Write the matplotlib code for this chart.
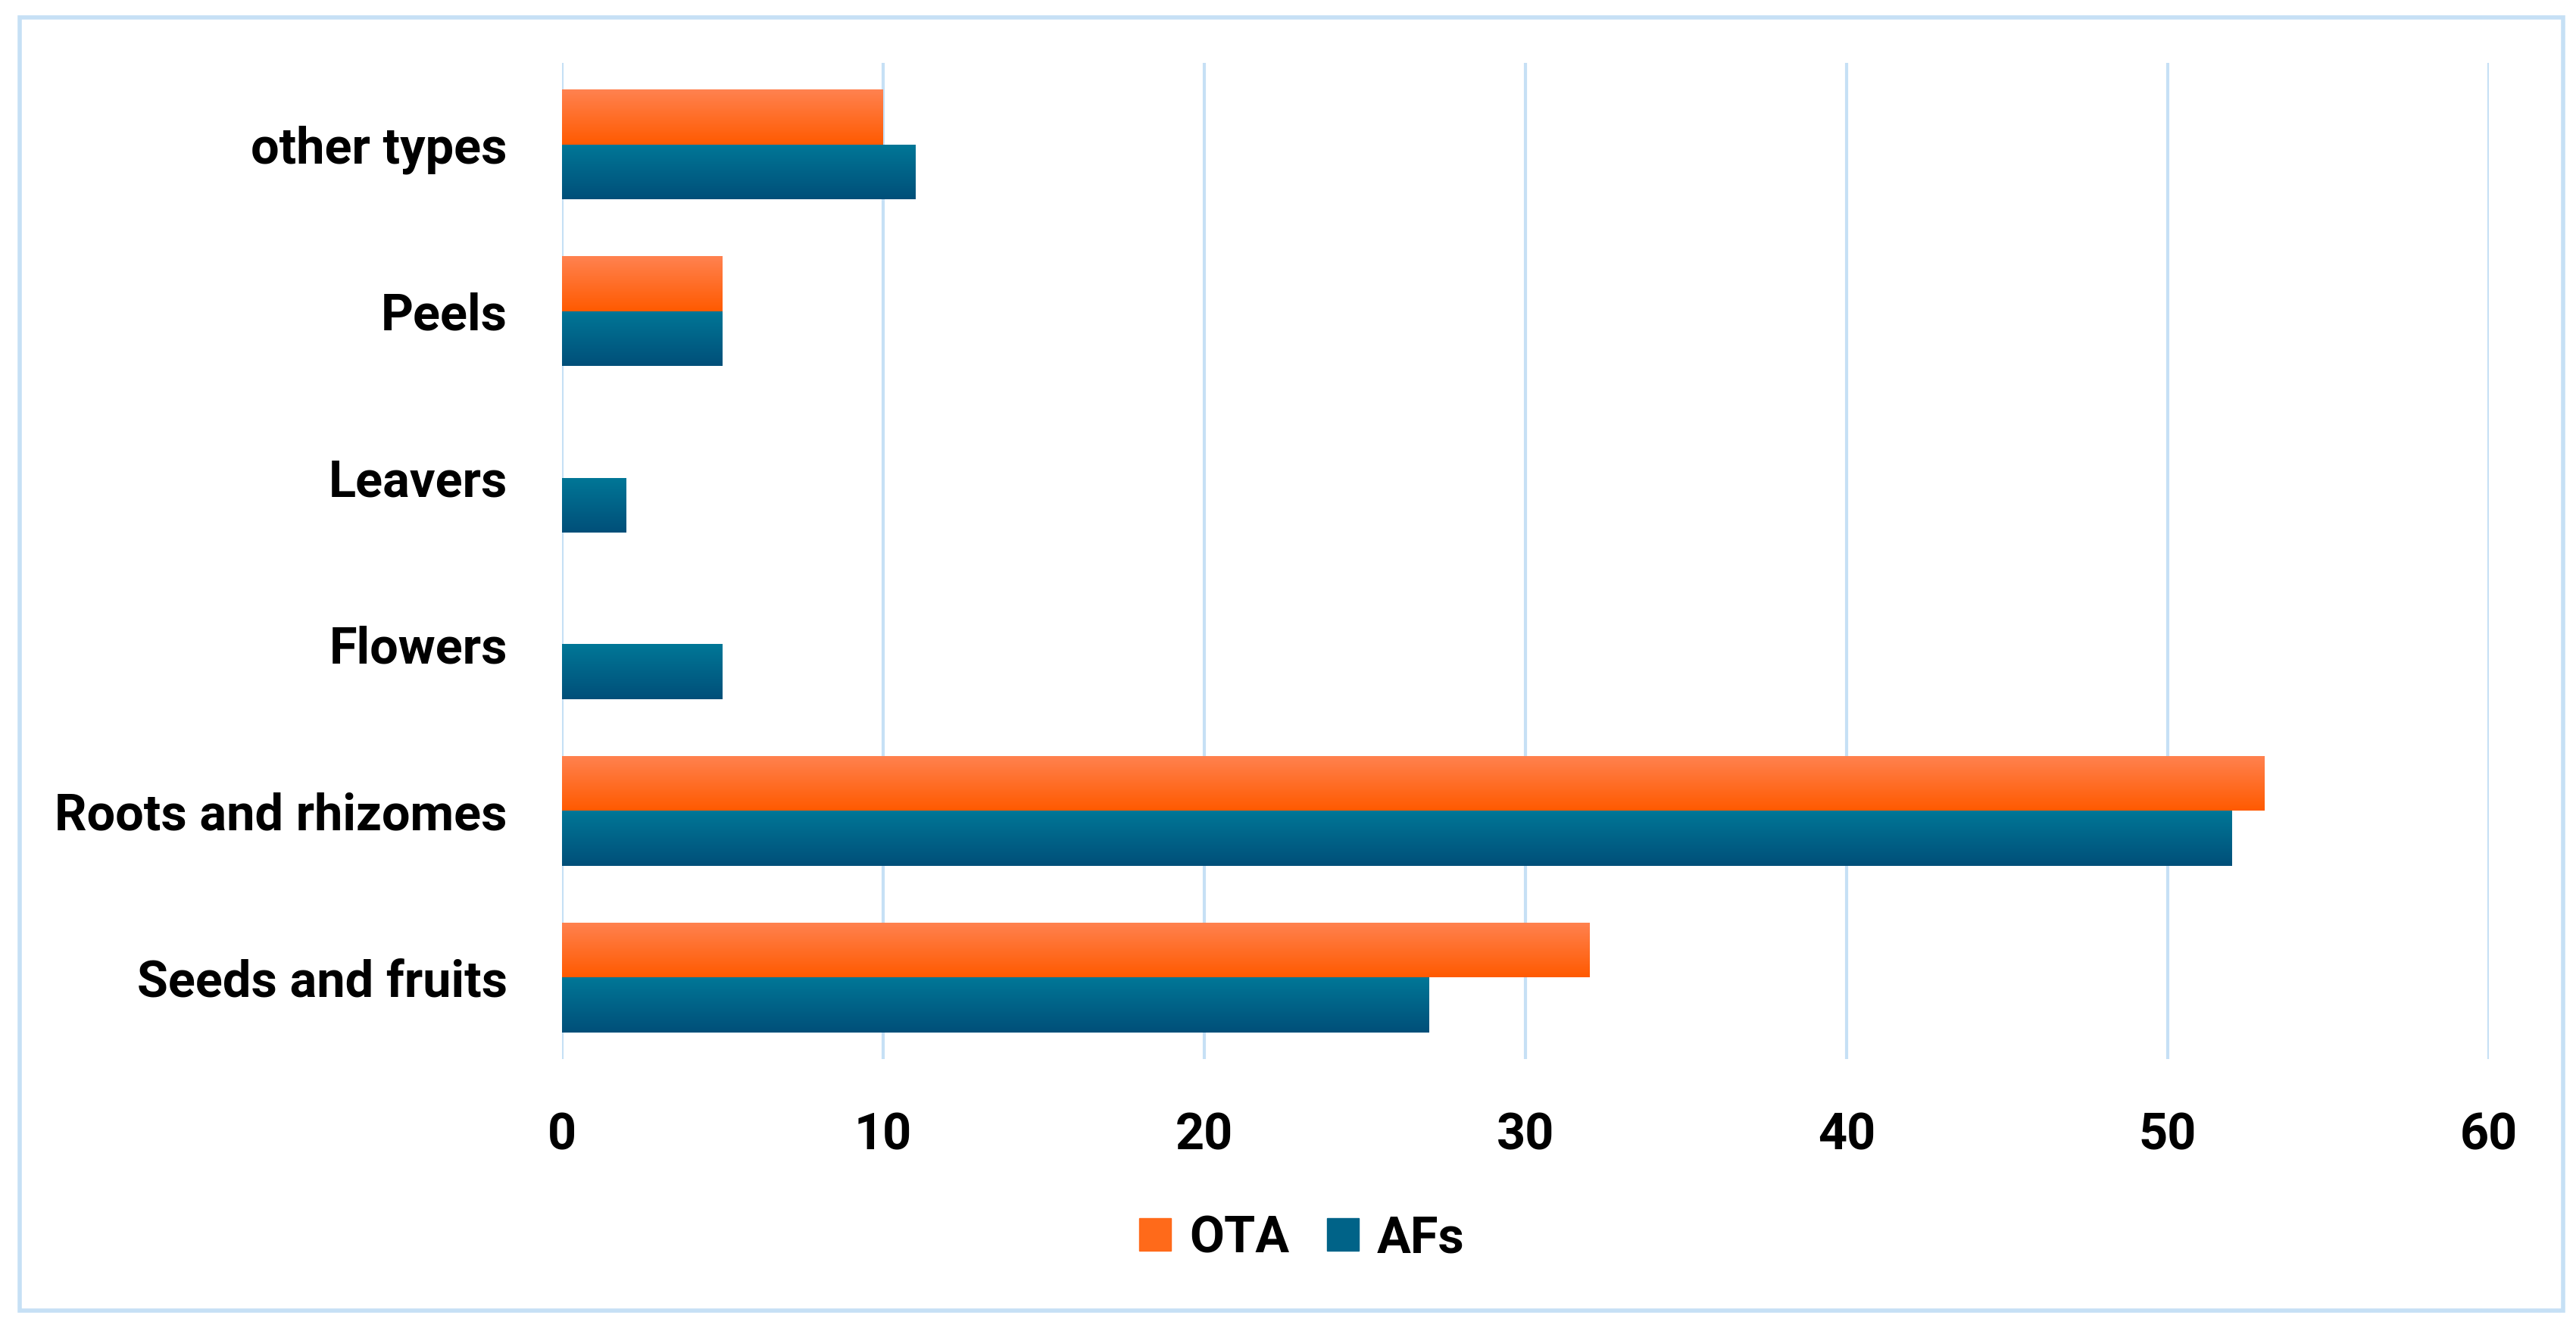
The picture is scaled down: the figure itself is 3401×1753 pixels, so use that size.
import numpy as np
import matplotlib.pyplot as plt
from matplotlib.colors import LinearSegmentedColormap
from matplotlib.patches import Rectangle

# data (bottom to top)
categories = ['Seeds and fruits', 'Roots and rhizomes', 'Flowers', 'Leavers', 'Peels', 'other types']
ota = [32, 53, 0, 0, 5, 10]
afs = [27, 52, 5, 2, 5, 11]
xticks = [0, 10, 20, 30, 40, 50, 60]

plt.rcParams['font.family'] = ['Roboto', 'DejaVu Sans']
plt.rcParams['font.weight'] = 'bold'

fig = plt.figure(figsize=(34.01, 17.53), dpi=100)
ax = fig.add_axes([742/3401, 1-1398/1753, (3286-742)/3401, (1398-83)/1753])

h = 0.33
y = np.arange(len(categories))
orange_cm = LinearSegmentedColormap.from_list('o', ['#ff8250', '#ff5a00'])
blue_cm = LinearSegmentedColormap.from_list('b', ['#007797', '#004f79'])

b1 = ax.barh(y + h/2, ota, height=h, color='#ff6a1a', label='OTA', zorder=2)
b2 = ax.barh(y - h/2, afs, height=h, color='#006388', label='AFs', zorder=2)

# vertical gradient on each bar
grad = np.linspace(0, 1, 256).reshape(-1, 1)
for bars, cm in ((b1, orange_cm), (b2, blue_cm)):
    for r in bars:
        w = r.get_width()
        if w <= 0:
            continue
        y0 = r.get_y()
        im = ax.imshow(grad, cmap=cm, aspect='auto', zorder=3,
                       extent=[0, w, y0, y0 + r.get_height()], origin='upper')
        im.set_clip_path(r)

ax.set_xlim(0, 60)
ax.set_ylim(-0.49, len(categories) - 0.51)
ax.set_xticks(xticks)
ax.set_yticks(y)
ax.set_yticklabels(categories)
ax.tick_params(axis='both', length=0, labelsize=48)
ax.tick_params(axis='x', pad=50)
ax.tick_params(axis='y', pad=52)
ax.grid(axis='x', color='#c6e0f5', linewidth=3, zorder=0)
ax.set_axisbelow(True)
for s in ax.spines.values():
    s.set_visible(False)

leg = fig.legend(handles=[b1, b2], labels=['OTA', 'AFs'], loc='center',
                 bbox_to_anchor=(1719/3401, 1-1635/1753), ncol=2, frameon=False,
                 fontsize=48, handlelength=0.63, handleheight=0.63,
                 handletextpad=0.36, columnspacing=0.75)
leg.legend_handles[0].set_color('#ff6a1a')
leg.legend_handles[1].set_color('#006388')

# outer border
fig.patches.append(Rectangle((26/3401, 1-1730/1753), (3384-26)/3401, (1730-23)/1753,
                             transform=fig.transFigure, fill=False,
                             edgecolor='#c6e0f5', linewidth=4))

fig.savefig('out.png', dpi=100, facecolor='white')
